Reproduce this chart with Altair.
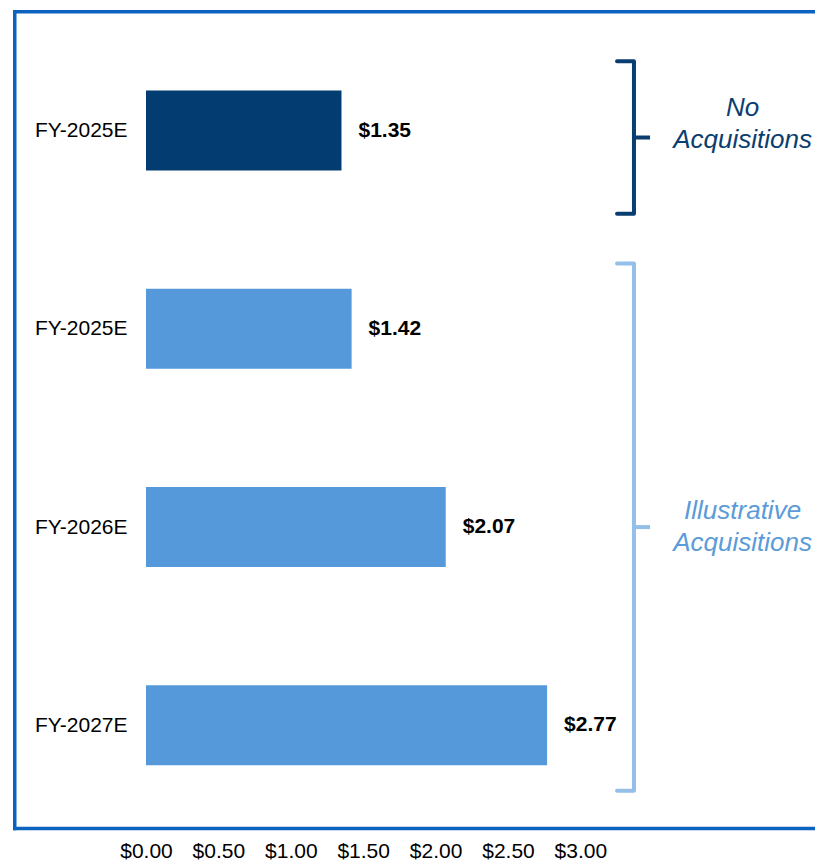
import altair as alt
import pandas as pd

# ---- data ----
categories = ["FY-2025E", "FY-2025E", "FY-2026E", "FY-2027E"]
values = [1.35, 1.42, 2.07, 2.77]
scenarios = ["No Acquisitions", "Illustrative Acquisitions",
             "Illustrative Acquisitions", "Illustrative Acquisitions"]
group_names = ["No Acquisitions", "Illustrative Acquisitions"]
group_labels = ["No\nAcquisitions", "Illustrative\nAcquisitions"]
x_ticks = [0.0, 0.5, 1.0, 1.5, 2.0, 2.5, 3.0]

# ---- styles ----
FONT = "Liberation Sans"
BAR_COLORS = ["#023c71", "#5599db"]
BRACE_COLORS = ["#0a3d70", "#93bfe9"]
TEXT_COLORS = ["#0a3d70", "#5b9bd8"]
FRAME = "#0b63bf"
BRACE_PAD = [(0.35, 0.42), (0.33, 0.33)]   # (above first row, below last row)
TEXT_DY = [-30, -16]

W, H = 669, 820
PX_PER_UNIT = 144.8
X_MAX = W / PX_PER_UNIT
ROW_PX = 200.7
ROW0_PX = 117  # row 0 centre, from plot top
Y_MIN = -ROW0_PX / ROW_PX
Y_MAX = Y_MIN + H / ROW_PX

rows = list(range(len(categories)))
bars = pd.DataFrame({"row": rows, "category": categories,
                     "value": values, "scenario": scenarios})

# brace geometry computed from the rows each group spans
HOOK_X, SPINE_X, TIP_X, TEXT_X = 3.253, 3.37, 3.481, 4.12
brace_pts, tips, texts = [], [], []
for g, lab, (pt, pb) in zip(group_names, group_labels, BRACE_PAD):
    r = [i for i, s in zip(rows, scenarios) if s == g]
    top, bot = min(r) - pt, max(r) + pb
    mid = (top + bot) / 2
    for k, (xx, yy) in enumerate([(HOOK_X, top), (SPINE_X, top),
                                  (SPINE_X, bot), (HOOK_X, bot)]):
        brace_pts.append({"group": g, "ord": k, "x": xx, "y": yy})
    tips.append({"group": g, "x": SPINE_X, "x2": TIP_X, "y": mid})
    texts.append({"group": g, "x": TEXT_X, "y": mid, "label": lab})
brace_df = pd.DataFrame(brace_pts)
tip_df = pd.DataFrame(tips)
text_df = pd.DataFrame(texts)

xs = alt.Scale(domain=[0, X_MAX], nice=False, zero=False)
ys = alt.Scale(domain=[Y_MIN, Y_MAX], nice=False, zero=False, reverse=True)

label_expr = "[" + ",".join(f"'{c}'" for c in categories) + "][datum.value]"

bar_layer = alt.Chart(bars).mark_bar(size=80, orient="horizontal").encode(
    x=alt.X("value:Q", scale=xs, title=None,
            axis=alt.Axis(values=x_ticks, format="$.2f", ticks=False, domain=False,
                          grid=False, labelFontSize=21, labelFont=FONT,
                          labelColor="#000000", labelPadding=10, labelFlush=False)),
    y=alt.Y("row:Q", scale=ys, title=None,
            axis=alt.Axis(values=rows, labelExpr=label_expr, ticks=False, domain=False,
                          grid=False, labelFontSize=21, labelFont=FONT,
                          labelColor="#000000", labelPadding=19)),
    color=alt.Color("scenario:N", scale=alt.Scale(domain=group_names, range=BAR_COLORS),
                    legend=None),
)

value_layer = alt.Chart(bars).mark_text(
    align="left", baseline="middle", dx=17, font=FONT, fontSize=21,
    fontWeight="bold", color="#000000"
).encode(
    x=alt.X("value:Q", scale=xs),
    y=alt.Y("row:Q", scale=ys),
    text=alt.Text("value:Q", format="$.2f"),
)

brace_layer = alt.Chart(brace_df).mark_line(strokeWidth=4, strokeJoin="round",
                                            strokeCap="round").encode(
    x=alt.X("x:Q", scale=xs),
    y=alt.Y("y:Q", scale=ys),
    order="ord:Q",
    detail="group:N",
    color=alt.Color("group:N", scale=alt.Scale(domain=group_names, range=BRACE_COLORS),
                    legend=None),
)

tip_layer = alt.Chart(tip_df).mark_rule(strokeWidth=4).encode(
    x=alt.X("x:Q", scale=xs),
    x2="x2:Q",
    y=alt.Y("y:Q", scale=ys),
    color=alt.Color("group:N", scale=alt.Scale(domain=group_names, range=BRACE_COLORS),
                    legend=None),
)

text_layers = []
for g, col, dy in zip(group_names, TEXT_COLORS, TEXT_DY):
    text_layers.append(
        alt.Chart(text_df).transform_filter(alt.datum.group == g).mark_text(
            align="center", baseline="middle", font=FONT, fontSize=26,
            fontStyle="italic", lineBreak="\n", lineHeight=32, color=col, dy=dy
        ).encode(
            x=alt.X("x:Q", scale=xs),
            y=alt.Y("y:Q", scale=ys),
            text="label:N",
        )
    )

one = pd.DataFrame({"a": [0]})
frame_kw = dict(color=FRAME, strokeWidth=3.5, strokeCap="square")
FB = H - 1.5
frame_top = alt.Chart(one).mark_rule(**frame_kw).encode(
    x=alt.value(-131.25), x2=alt.value(W + 4), y=alt.value(1.75))
frame_left = alt.Chart(one).mark_rule(**frame_kw).encode(
    x=alt.value(-131.25), y=alt.value(1.75), y2=alt.value(FB))
frame_bottom = alt.Chart(one).mark_rule(**frame_kw).encode(
    x=alt.value(-131.25), x2=alt.value(W + 4), y=alt.value(FB))

chart = alt.layer(
    bar_layer, value_layer, brace_layer, tip_layer, *text_layers,
    frame_top, frame_left, frame_bottom
).resolve_scale(color="independent").properties(
    width=W, height=H,
    autosize=alt.AutoSizeParams(type="none"),
    padding={"left": 138, "top": 2, "right": 0, "bottom": 34},
    background="#ffffff",
).configure_view(stroke=None)

chart.save("out.html", embed_options={"renderer": "svg", "actions": False})
